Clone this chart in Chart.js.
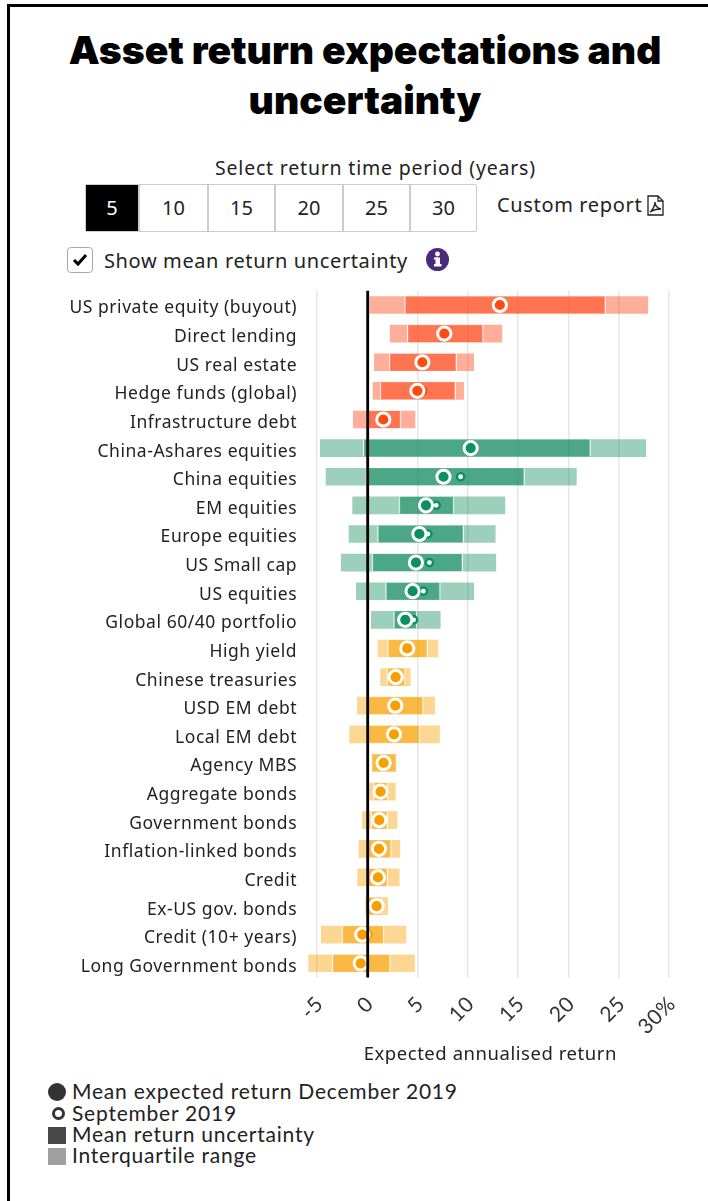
<!DOCTYPE html>
<html>
<head>
<meta charset="utf-8">
<title>Asset return expectations and uncertainty</title>
<script src="https://cdn.jsdelivr.net/npm/chart.js@4"></script>
<style>
html, body { margin: 0; padding: 0; background: #fff; }
body { width: 708px; height: 1201px; position: relative; overflow: hidden; font-family: "Noto Sans", sans-serif; color: #222; }
.abs { position: absolute; white-space: nowrap; }
#frameTop { left: 8px; top: 4px; width: 700px; height: 3px; background: #000; }
#frameLeft { left: 7px; top: 4px; width: 3px; height: 1197px; background: #000; }
h1 { position: absolute; left: 0; top: 25px; width: 730px; margin: 0; text-align: center; font: 900 39px/50px Inter, sans-serif; color: #000; }
#periods { left: 85px; top: 184px; width: 390px; height: 46px; border: 1px solid #ccc; border-radius: 2px; display: flex; }
#periods div { text-align: center; font-size: 20px; line-height: 46px; border-left: 2px solid #ccc; box-sizing: border-box; }
#periods div.on { background: #000; color: #fff; border-left: 0; }
#chk { left: 67px; top: 247px; width: 24px; height: 24px; border: 1px solid #aaa; border-radius: 4px; }
#chart-box { position: absolute; left: 0; top: 270px; width: 708px; height: 798px; }
.lg { left: 72px; font: 21px/23px Lato, sans-serif; letter-spacing: .78px; color: #222; }
.key { position: absolute; }
</style>
</head>
<body>
<div class="abs" id="frameTop"></div>
<div class="abs" id="frameLeft"></div>
<h1>Asset return expectations and<br>uncertainty</h1>

<div class="abs" style="left:215px;top:155px;font-size:19.5px;line-height:26px;letter-spacing:.8px">Select return time period (years)</div>
<div class="abs" id="periods">
  <div class="on" style="width:52px">5</div>
  <div style="width:69px">10</div>
  <div style="width:67px">15</div>
  <div style="width:68px">20</div>
  <div style="width:67px">25</div>
  <div style="width:67px">30</div>
</div>
<div class="abs" style="left:497px;top:192px;font-size:20px;line-height:26px;letter-spacing:.65px">Custom report</div>
<svg class="abs" style="left:646px;top:195px" width="19" height="21" viewBox="0 0 19 21" fill="none" stroke="#222" stroke-width="1.3">
  <path d="M2 1h10l5 5v14H2z"/><path d="M12 1v5h5"/><path d="M4 17c3-2 5-7 5-10 0 3 2 6 6 7-4 0-8 1-11 3z"/>
</svg>

<div class="abs" id="chk"></div>
<svg class="abs" style="left:71px;top:251px" width="18" height="18" viewBox="0 0 18 18" fill="none" stroke="#000" stroke-width="3"><path d="M3 9l4 4 8-9"/></svg>
<div class="abs" style="left:104px;top:247px;font-size:20px;line-height:28px;letter-spacing:.62px">Show mean return uncertainty</div>
<svg class="abs" style="left:426px;top:248px" width="23" height="23" viewBox="0 0 23 23">
  <circle cx="11.5" cy="11.5" r="11.5" fill="#4b2a7b"/>
  <rect x="9.5" y="9.5" width="4.5" height="8" fill="#fff"/><rect x="8" y="16" width="7.5" height="2.5" fill="#fff"/><rect x="8" y="9.5" width="4" height="2" fill="#fff"/>
  <circle cx="11.5" cy="6" r="2.4" fill="#fff"/>
</svg>

<div id="chart-box"><canvas id="chart-1" width="708" height="798"></canvas></div>

<div class="key" style="left:48px;top:1083px;width:18px;height:18px;border-radius:50%;background:#333"></div>
<div class="abs lg" style="top:1079px">Mean expected return December 2019</div>
<div class="key" style="left:52px;top:1107px;width:7px;height:7px;border-radius:50%;border:3px solid #333"></div>
<div class="abs lg" style="top:1101px">September 2019</div>
<div class="key" style="left:48px;top:1127px;width:18px;height:17px;background:#484848"></div>
<div class="abs lg" style="top:1122px">Mean return uncertainty</div>
<div class="key" style="left:48px;top:1148px;width:18px;height:17px;background:#a0a0a0"></div>
<div class="abs lg" style="top:1143px">Interquartile range</div>

<script>
// Asset classes, top to bottom
const categories = [
    'US private equity (buyout)', 'Direct lending', 'US real estate', 'Hedge funds (global)', 'Infrastructure debt',
    'China-Ashares equities', 'China equities', 'EM equities', 'Europe equities', 'US Small cap', 'US equities', 'Global 60/40 portfolio',
    'High yield', 'Chinese treasuries', 'USD EM debt', 'Local EM debt', 'Agency MBS', 'Aggregate bonds', 'Government bonds',
    'Inflation-linked bonds', 'Credit', 'Ex-US gov. bonds', 'Credit (10+ years)', 'Long Government bonds'
];
const groups = ['alt', 'alt', 'alt', 'alt', 'alt', 'eq', 'eq', 'eq', 'eq', 'eq', 'eq', 'eq', 'fi', 'fi', 'fi', 'fi', 'fi', 'fi', 'fi', 'fi', 'fi', 'fi', 'fi', 'fi'];

const iqrLow = [0.26, 2.3, 0.73, 0.6, -1.36, -4.64, -4.07, -1.43, -1.79, -2.55, -1.06, 0.43, 1.09, 1.35, -0.96, -1.72, 0.43, 0.16, -0.47, -0.8, -0.93, -0.13, -4.54, -5.8];
const iqrHigh = [27.9, 13.4, 10.6, 9.6, 4.77, 27.7, 20.8, 13.7, 12.74, 12.8, 10.6, 7.28, 7.05, 4.3, 6.72, 7.2, 2.94, 2.81, 2.98, 3.27, 3.2, 2.05, 3.87, 4.73];
const uncLow = [3.74, 4.0, 2.2, 1.3, 0, -0.37, -0.1, 3.18, 1.05, 0.5, 1.85, 2.65, 2.05, 1.98, 0, 0.1, 0.43, 0.66, 0.4, 0, 0, 0, -2.49, -3.45];
const uncHigh = [23.7, 11.55, 8.9, 8.8, 3.37, 22.2, 15.65, 8.64, 9.6, 9.5, 7.28, 4.96, 6.02, 3.8, 5.59, 5.26, 2.94, 2.08, 2.05, 2.41, 2.05, 1.49, 1.69, 2.31];
const meanDec = [13.2, 7.68, 5.5, 5.0, 1.62, 10.3, 7.6, 5.86, 5.2, 4.86, 4.53, 3.8, 4.0, 2.85, 2.81, 2.68, 1.65, 1.35, 1.22, 1.19, 1.09, 0.96, -0.47, -0.63];
const meanSep = [13.2, 7.68, 5.5, 5.55, 1.62, 10.3, 9.3, 6.88, 6.05, 6.2, 5.6, 4.63, 4.0, 2.85, 2.81, 2.68, 1.65, 1.35, 1.22, 1.19, 1.09, 0.96, 0.1, -0.63];
const xTicks = [-5, 0, 5, 10, 15, 20, 25, 30];

const iqrColors = { alt: 'rgba(255,75,30,.45)', eq: 'rgba(10,135,90,.4)', fi: 'rgba(248,160,0,.42)' };
const uncColors = { alt: 'rgba(255,75,30,.58)', eq: 'rgba(10,135,90,.55)', fi: 'rgba(248,160,0,.55)' };
const dotColors = { alt: '#ff4a12', eq: '#0b8f63', fi: '#f6a000' };
const dots = groups.map(g => dotColors[g]);

// tracking for the axis text, set on each draw
const tracking = {
    id: 'tracking',
    beforeDraw(chart) {
        chart.ctx.letterSpacing = '0.55px';
    }
};

// black line at 0%, above the bars
const zeroLine = {
    id: 'zeroLine',
    afterDatasetsDraw(chart) {
        const { ctx, chartArea, scales } = chart;
        const x = scales.x.getPixelForValue(0) + 0.7;
        ctx.save();
        ctx.strokeStyle = '#000';
        ctx.lineWidth = 2.8;
        ctx.beginPath();
        ctx.moveTo(x, chartArea.top);
        ctx.lineTo(x, chartArea.bottom);
        ctx.stroke();
        ctx.restore();
    }
};

const ctx1 = document.getElementById('chart-1').getContext('2d');
new Chart(ctx1, {
    type: 'bar',
    data: {
        labels: categories,
        datasets: [
            {
                label: 'Interquartile range',
                data: categories.map((c, i) => [iqrLow[i], iqrHigh[i]]),
                backgroundColor: groups.map(g => iqrColors[g]),
                barThickness: 17,
                grouped: false,
                order: 4
            },
            {
                label: 'Mean return uncertainty',
                data: categories.map((c, i) => [uncLow[i], uncHigh[i]]),
                backgroundColor: groups.map(g => uncColors[g]),
                borderColor: '#fff',
                borderWidth: { left: 1, right: 1, top: 0, bottom: 0 },
                borderSkipped: false,
                barThickness: 17,
                grouped: false,
                order: 3
            },
            {
                type: 'line',
                label: 'September 2019',
                data: categories.map((c, i) => ({ x: meanSep[i], y: c })),
                showLine: false,
                pointRadius: 3.6,
                pointBackgroundColor: '#fff',
                pointBorderColor: dots,
                pointBorderWidth: 2.4,
                order: 2
            },
            {
                type: 'line',
                label: 'Mean expected return December 2019',
                data: categories.map((c, i) => ({ x: meanDec[i], y: c })),
                showLine: false,
                pointRadius: 6.6,
                pointBackgroundColor: dots,
                pointBorderColor: '#fff',
                pointBorderWidth: 3,
                order: 1
            }
        ]
    },
    options: {
        indexAxis: 'y',
        responsive: false,
        animation: false,
        layout: { padding: { top: 20.7, right: 31.5, bottom: 0, left: 0 } },
        plugins: { legend: { display: false }, tooltip: { enabled: false } },
        scales: {
            x: {
                type: 'linear',
                min: -6.25,
                max: 30.75,
                afterBuildTicks: s => { s.ticks = xTicks.map(v => ({ value: v })); },
                afterFit: s => { s.height = 90.4; },
                grid: { color: '#e6e6e6', lineWidth: 1.5, drawTicks: false },
                border: { display: false },
                ticks: {
                    autoSkip: false,
                    minRotation: 45,
                    maxRotation: 45,
                    padding: 14,
                    labelOffset: 3,
                    color: '#333',
                    font: { family: 'Lato', size: 21 },
                    callback: v => v === 30 ? '30%' : v
                },
                title: {
                    display: true,
                    text: 'Expected annualised return',
                    color: '#222',
                    font: { family: 'Noto Sans', size: 18.5 },
                    padding: { top: 0, bottom: 2 }
                }
            },
            y: {
                type: 'category',
                afterFit: s => { s.width = 304.1; },
                grid: { display: false, drawTicks: false },
                border: { display: false },
                ticks: {
                    autoSkip: false,
                    padding: 7,
                    labelOffset: 3.5,
                    color: '#222',
                    font: { family: 'Noto Sans', size: 17.5 }
                }
            }
        }
    },
    plugins: [tracking, zeroLine]
});
</script>
</body>
</html>
